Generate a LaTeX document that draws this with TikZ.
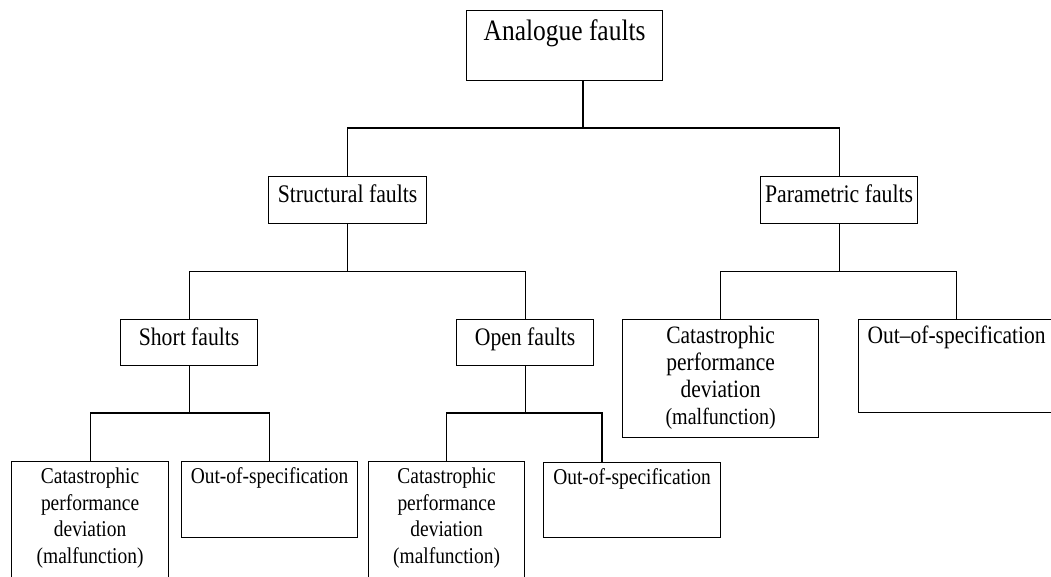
\documentclass[tikz,border=0pt]{standalone}
\usepackage{fontspec}
\setmainfont{Liberation Serif}[FakeStretch=0.86]
% box content: width, height, first baseline from top, font size, line skip, text
\newcommand\cell[6]{\parbox[c][#2][t]{#1}{\fontsize{#4}{#5}\selectfont\centering\rule{0pt}{#3}#6}}
\tikzset{
  box/.style={draw, line width=1.2pt, inner sep=0pt, anchor=north west},
  link/.style={line width=1.2pt}
}
\begin{document}
\begin{tikzpicture}[x=1pt, y=-1pt]
\clip (0,0) rectangle (1051,577);

% top level
\node[box] (A) at (466,10) {\cell{196pt}{70pt}{30pt}{29.6pt}{34pt}{Analogue faults}};

% second level
\node[box] (S) at (268,176) {\cell{158pt}{47pt}{26pt}{25.3pt}{29pt}{Structural faults}};
\node[box] (P) at (760,176) {\cell{157pt}{47pt}{26pt}{25.3pt}{29pt}{Parametric faults}};

% third level
\node[box] (SF) at (120,319) {\cell{137pt}{46pt}{26pt}{25.2pt}{29pt}{Short faults}};
\node[box] (OF) at (456,319) {\cell{137pt}{46pt}{26pt}{25.2pt}{29pt}{Open faults}};
\node[box] (PC) at (622,319) {\cell{196pt}{118pt}{24pt}{25pt}{27pt}{Catastrophic\\ performance\\ deviation\\ {\fontsize{23.3pt}{27pt}\selectfont (malfunction)}}};
\node[box] (PO) at (858,319) {\cell{196pt}{93pt}{24pt}{25pt}{27pt}{Out\textendash of-specification}};

% fourth level
\node[box] (BC1) at (11,461) {\cell{157pt}{139pt}{22pt}{22.6pt}{26.5pt}{Catastrophic\\ performance\\ deviation\\ (malfunction)}};
\node[box] (BO1) at (181,461) {\cell{176pt}{76pt}{22pt}{22.6pt}{26.5pt}{Out-of-specification}};
\node[box] (BC2) at (368,461) {\cell{156pt}{139pt}{22pt}{22.6pt}{26.5pt}{Catastrophic\\ performance\\ deviation\\ (malfunction)}};
\node[box] (BO2) at (543,462) {\cell{177pt}{75pt}{22pt}{22.6pt}{26.5pt}{Out-of-specification}};

% branch levels
\coordinate (t0) at (583,128);
\coordinate (L2) at (0,271.5);
\coordinate (L3) at (0,413);
\coordinate (d2) at (602,413);

% connectors
\draw[link] (t0 |- A.south) -- (t0);
\draw[link] (S.north) |- (t0) -| (P.north);

\draw[link] (S.south) -- (S.south |- L2);
\draw[link] (SF.north) |- (S.south |- L2) -| (OF.north);

\draw[link] (P.south) -- (P.south |- L2);
\draw[link] (PC.north) |- (P.south |- L2) -| (PO.north);

\draw[link] (SF.south) -- (SF.south |- L3);
\draw[link] (BC1.north) |- (SF.south |- L3) -| (BO1.north);

\draw[link] (OF.south) -- (OF.south |- L3);
\draw[link] (BC2.north) |- (d2) -- (d2 |- BO2.north);
\end{tikzpicture}
\end{document}
